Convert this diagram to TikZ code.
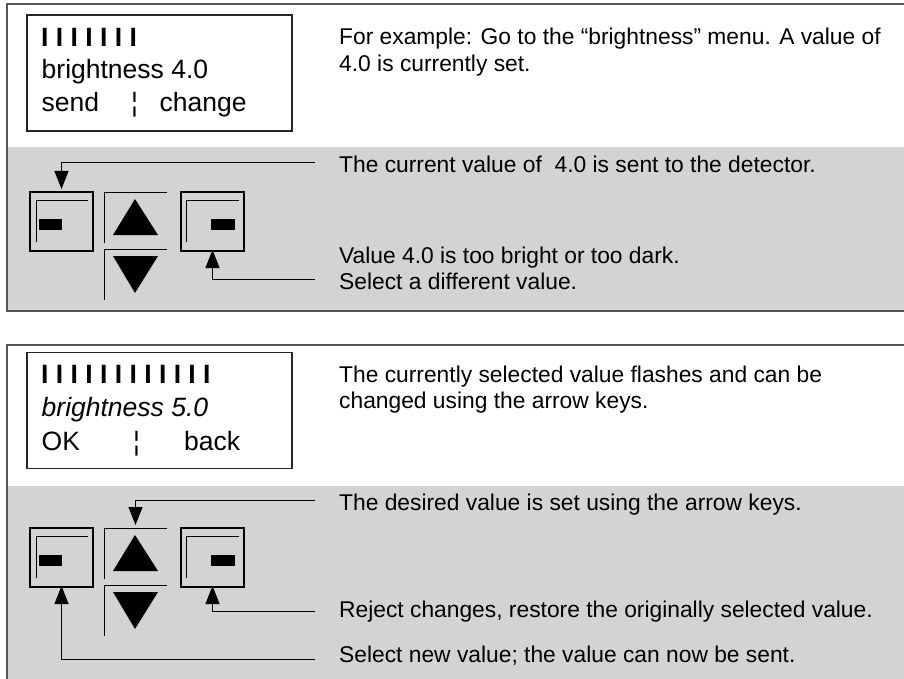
\documentclass[tikz,border=0pt]{standalone}
\usepackage{fontspec}
\setmainfont{Liberation Sans}
\usetikzlibrary{arrows.meta}
\definecolor{panelgray}{RGB}{209,211,212}
\definecolor{framecol}{RGB}{85,85,85}
\newcommand\keypad[2]{%
  \node[keybox] (kL#1) at (61.5,{221.5+#2}) {};
  \draw[thinln] (36,{242+#2}) -- (36,{200+#2}) -- (88,{200+#2});
  \fill (39,{219+#2}) rectangle (62,{230+#2});
  \node[keybox] (kR#1) at (212.5,{221.5+#2}) {};
  \draw[thinln] (186,{242+#2}) -- (186,{200+#2}) -- (239,{200+#2});
  \fill (211,{219+#2}) rectangle (235,{230+#2});
  \node[arrowkey] (kU#1) at (135.5,{217.5+#2}) {};
  \draw[thinln] (kU#1.south west) -- (kU#1.north west) -- (kU#1.north east);
  \fill (135,{199+#2}) -- (158,{235+#2}) -- (113,{235+#2}) -- cycle;
  \node[arrowkey] (kD#1) at (135.5,{274.5+#2}) {};
  \draw[thinln] (kD#1.south west) -- (kD#1.north west) -- (kD#1.north east);
  \fill (113,{256+#2}) -- (158,{256+#2}) -- (135,{293+#2}) -- cycle;
}
\begin{document}
\begin{tikzpicture}[x=1pt,y=-1pt,
  panel/.style={draw=framecol,line width=1.5pt},
  lcd/.style={draw=black!85,line width=1.5pt,minimum width=265pt,minimum height=116pt,inner sep=0pt},
  keybox/.style={draw=black,line width=1.6pt,minimum width=63pt,minimum height=59pt,inner sep=0pt,outer sep=0pt},
  arrowkey/.style={minimum width=63pt,minimum height=51pt,inner sep=0pt,outer sep=0pt},
  thinln/.style={line width=0.9pt},
  conn/.style={line width=1pt,-{Triangle[width=14pt,length=18pt]}},
  lcdtext/.style={anchor=base west,inner sep=0pt,font=\fontsize{26.5}{30}\selectfont},
  desc/.style={anchor=base west,inner sep=0pt,font=\fontsize{22.8}{27}\selectfont},
]
\useasboundingbox (0,0) rectangle (904,679);
\clip (0,0) rectangle (904,679);

% panel 1
\fill[panelgray] (7,147) rectangle (910,311);
\draw[panel] (910,4) -- (7,4) -- (7,311) -- (910,311);
% panel 2
\fill[panelgray] (7,486) rectangle (910,690);
\draw[panel] (910,345) -- (7,345) -- (7,690);

% LCD 1
\node[lcd] (lcd1) at (159.5,73) {};
\node[lcdtext] (bars1) at (41,46.5) {\textbf{I I I I I I I}};
\node[lcdtext] (br1) at (41.5,79) {brightness 4.0};
\node[lcdtext] (send) at (41.5,112) {send};
\node[lcdtext,anchor=base] (sep1) at (134.5,112) {¦};
\node[lcdtext] (change) at (159.5,112) {change};

% LCD 2
\node[lcd] (lcd2) at (159.5,410.5) {};
\node[lcdtext] (bars2) at (41,383) {\textbf{I I I I I I I I I I I I}};
\node[lcdtext] (br2) at (41.5,416) {\itshape brightness 5.0};
\node[lcdtext] (ok) at (41.5,450) {OK};
\node[lcdtext,anchor=base] (sep2) at (136.5,450) {¦};
\node[lcdtext] (back) at (184,450) {back};

% descriptions panel 1
\node[desc] (t1a) at (339,45) {For example: Go to the “brightness” menu. A value of};
\node[desc] (t1b) at (339,72) {4.0 is currently set.};
\node[desc] (t1c) at (339,172) {The current value of~ 4.0 is sent to the detector.};
\node[desc] (t1d) at (339,263) {Value 4.0 is too bright or too dark.};
\node[desc] (t1e) at (339,289) {Select a different value.};

% descriptions panel 2
\node[desc] (t2a) at (339,382) {The currently selected value flashes and can be};
\node[desc] (t2b) at (339,408) {changed using the arrow keys.};
\node[desc] (t2c) at (339,510) {The desired value is set using the arrow keys.};
\node[desc] (t2d) at (339,617) {Reject changes, restore the originally selected value.};
\node[desc] (t2e) at (339,662) {Select new value; the value can now be sent.};

% keys
\keypad{1}{0}
\keypad{2}{336}

% connectors
\coordinate (c1) at (315,163);
\coordinate (c2) at (315,279);
\coordinate (c3) at (315,500);
\coordinate (c4) at (315,611);
\coordinate (c5) at (315,659);
\draw[conn,shorten >=3pt] (c1) -| (kL1.north);
\draw[conn,shorten >=-1pt] (c2) -| (kR1.south);
\draw[conn,shorten >=3pt] (c3) -| (kU2.north);
\draw[conn,shorten >=-1pt] (c4) -| (kR2.south);
\draw[conn,shorten >=-1pt] (c5) -| (kL2.south);
\end{tikzpicture}
\end{document}
